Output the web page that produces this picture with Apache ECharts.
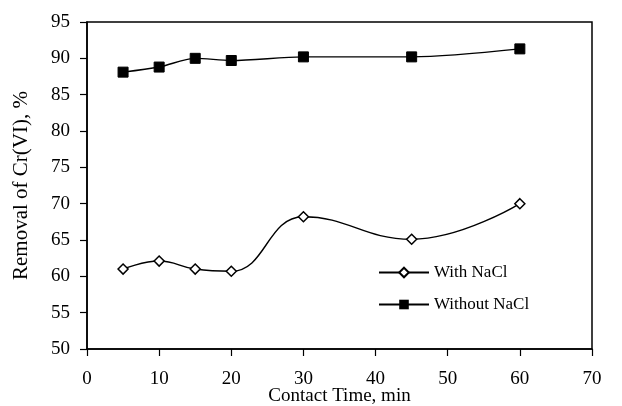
<!DOCTYPE html>
<html>
<head>
<meta charset="utf-8">
<script src="https://cdn.jsdelivr.net/npm/echarts@6/dist/echarts.min.js"></script>
<style>
html,body{margin:0;padding:0;background:#fff;}
#main{width:622px;height:406px;}
</style>
</head>
<body>
<div id="main"></div>
<script>
// 接触时间 (min)
const contactTime = [5, 10, 15, 20, 30, 45, 60];
const withNaCl = [61.0, 62.1, 61.0, 60.7, 68.2, 65.1, 70.0];
const withoutNaCl = [88.1, 88.8, 90.0, 89.7, 90.2, 90.2, 91.3];

const font = 'Liberation Serif, Times New Roman, serif';

function pairs(xs, ys){
    return xs.map((x, i) => [x, ys[i]]);
}

let chart = echarts.init(document.getElementById('main'));
chart.setOption({
    animation: false,
    backgroundColor: '#fff',
    grid: {
        left: 87, right: 30, top: 22, bottom: 57,
        containLabel: false, outerBoundsMode: 'none',
        show: true, borderColor: '#000', borderWidth: 1.5
    },
    legend: {
        orient: 'vertical',
        left: 373, top: 259,
        itemWidth: 50, itemHeight: 12, itemGap: 15,
        textStyle: {fontFamily: font, fontSize: 17, color: '#000'},
        data: ['With NaCl', 'Without NaCl']
    },
    xAxis: {
        type: 'value', min: 0, max: 70, interval: 10,
        name: 'Contact Time, min', nameLocation: 'middle', nameGap: 38,
        nameMoveOverlap: false,
        nameTextStyle: {fontFamily: font, fontSize: 19, color: '#000'},
        axisLine: {lineStyle: {color: '#000', width: 1.5}},
        axisTick: {show: true, inside: false, length: 7, lineStyle: {color: '#000', width: 1.2}},
        axisLabel: {fontFamily: font, fontSize: 19, color: '#000', margin: 21},
        splitLine: {show: false}
    },
    yAxis: {
        type: 'value', min: 50, max: 95, interval: 5,
        name: 'Removal of Cr(VI), %', nameLocation: 'middle', nameGap: 55,
        nameMoveOverlap: false,
        nameTextStyle: {fontFamily: font, fontSize: 21, color: '#000'},
        axisLine: {show: true, lineStyle: {color: '#000', width: 1.5}},
        axisTick: {show: true, inside: false, length: 7, lineStyle: {color: '#000', width: 1.2}},
        axisLabel: {fontFamily: font, fontSize: 19, color: '#000', margin: 17},
        splitLine: {show: false}
    },
    series: [
        {
            name: 'With NaCl', type: 'line', smooth: 0.45,
            data: pairs(contactTime, withNaCl),
            symbol: 'diamond', symbolSize: 10,
            itemStyle: {color: '#fff', borderColor: '#000', borderWidth: 1.5},
            lineStyle: {color: '#000', width: 1.4}
        },
        {
            name: 'Without NaCl', type: 'line', smooth: 0.3,
            data: pairs(contactTime, withoutNaCl),
            symbol: 'rect', symbolSize: 10,
            itemStyle: {color: '#000', borderColor: '#000'},
            lineStyle: {color: '#000', width: 1.4}
        }
    ]
});
</script>
</body>
</html>
